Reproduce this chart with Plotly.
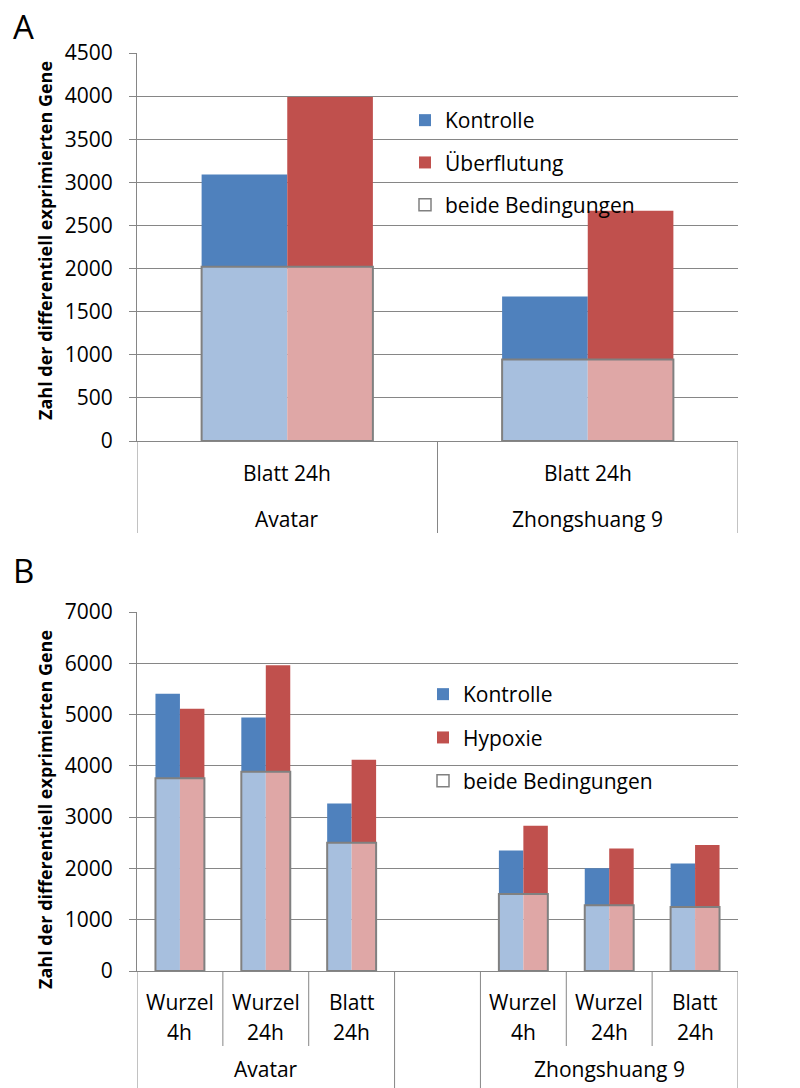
import plotly.graph_objects as go

# ---- Panel A: flooding (Überflutung), leaf 24h ----
a_outer = ["Avatar", "Zhongshuang 9"]
a_inner = ["Blatt 24h", "Blatt 24h"]
a_shared = [2020, 945]          # genes found in both conditions
a_kontrolle = [3090, 1675]      # total, control
a_stress = [3990, 2670]         # total, flooding

# ---- Panel B: hypoxia ----
b_outer = ["Avatar", "Avatar", "Avatar", "", "Zhongshuang 9", "Zhongshuang 9", "Zhongshuang 9"]
b_inner_1 = ["Wurzel", "Wurzel", "Blatt", "", "Wurzel", "Wurzel", "Blatt"]
b_inner_2 = ["4h", "24h", "24h", "", "4h", "24h", "24h"]
b_shared = [3760, 3885, 2500, None, 1500, 1280, 1250]
b_kontrolle = [5405, 4945, 3265, None, 2350, 2005, 2095]
b_stress = [5115, 5960, 4120, None, 2830, 2390, 2455]

DARK_BLUE = "#4F81BD"
DARK_RED = "#C0504D"
LIGHT_BLUE = "#A7BFDE"
LIGHT_RED = "#DFA7A6"
GRID = "#868686"
OUTLINE = "#808080"
FONT = "Open Sans"
FS = 21

HALF = 0.285  # width of one bar in category units (two bars per category)

W, H = 800, 1088
L, R = 137, 62
PW = W - L - R


def px_x(p):
    return (p - L) / PW


def px_y(p):
    return 1 - p / H


def diff(total, base):
    return [None if t is None or b is None else t - b for t, b in zip(total, base)]


fig = go.Figure()
shapes = []
annotations = []


def add_panel(outer, inner_lines, shared, kon, stress, xa, ya, legend, stress_name,
              axis_px, inner_y_px, inner_end_px, outer_y_px, outer_end_px):
    n = len(outer)
    x = list(range(n))
    common = dict(x=x, xaxis=xa, yaxis=ya, showlegend=False, hoverinfo="skip")
    fig.add_trace(go.Bar(y=shared, offset=-HALF, width=HALF,
                         marker=dict(color=LIGHT_BLUE, line=dict(width=0)), **common))
    fig.add_trace(go.Bar(y=shared, offset=0, width=HALF,
                         marker=dict(color=LIGHT_RED, line=dict(width=0)), **common))
    fig.add_trace(go.Bar(y=diff(kon, shared), base=shared, offset=-HALF, width=HALF,
                         marker=dict(color=DARK_BLUE, line=dict(width=0)), **common))
    fig.add_trace(go.Bar(y=diff(stress, shared), base=shared, offset=0, width=HALF,
                         marker=dict(color=DARK_RED, line=dict(width=0)), **common))
    # frame around the shared block
    fig.add_trace(go.Bar(y=shared, offset=-HALF, width=2 * HALF,
                         marker=dict(color="rgba(0,0,0,0)", line=dict(color=OUTLINE, width=2)),
                         **common))
    # legend entries
    for i, (name, col, lc, lw) in enumerate([
        ("Kontrolle", DARK_BLUE, DARK_BLUE, 0),
        (stress_name, DARK_RED, DARK_RED, 0),
        ("beide Bedingungen", "white", OUTLINE, 1.5),
    ]):
        fig.add_trace(go.Bar(x=[0], y=[None], name=name,
                             marker=dict(color=col, line=dict(color=lc, width=lw)),
                             xaxis=xa, yaxis=ya, legend=legend,
                             legendgroup=legend + str(i), showlegend=True))

    # category labels (inner rows)
    for row, labels in enumerate(inner_lines):
        for i, lab in enumerate(labels):
            if lab:
                annotations.append(dict(text=lab, x=i, y=px_y(inner_y_px[row]), xref=xa,
                                        yref="paper", showarrow=False, xanchor="center",
                                        yanchor="middle"))
    # group labels (outer row)
    groups = []
    for i, g in enumerate(outer):
        if groups and groups[-1][0] == g:
            groups[-1][2] = i
        else:
            groups.append([g, i, i])
    for g, i0, i1 in groups:
        if g:
            annotations.append(dict(text=g, x=(i0 + i1) / 2, y=px_y(outer_y_px), xref=xa,
                                    yref="paper", showarrow=False, xanchor="center",
                                    yanchor="middle"))
    # dividers: full height at group edges, shorter between categories of a group
    group_edges = {i0 - 0.5 for _, i0, _ in groups} | {i1 + 0.5 for _, _, i1 in groups}
    for k in range(n + 1):
        b = k - 0.5
        end = outer_end_px if b in group_edges else inner_end_px
        shapes.append(dict(type="line", xref=xa, yref="paper", x0=b, x1=b,
                           y0=px_y(axis_px), y1=px_y(end),
                           line=dict(color=GRID, width=1)))
    return n


na = add_panel(a_outer, [a_inner], a_shared, a_kontrolle, a_stress, "x", "y", "legend",
               "Überflutung", 441, [473], 487, 519, 533)
nb = add_panel(b_outer, [b_inner_1, b_inner_2], b_shared, b_kontrolle, b_stress, "x2", "y3",
               "legend2", "Hypoxie", 971, [1002, 1032], 1046, 1069, 1088)

tickfont = dict(family=FONT, size=FS, color="black")

xcommon = dict(showline=True, linecolor=GRID, linewidth=1, ticks="",
               showticklabels=False, showgrid=False, zeroline=False, automargin=False)
ycommon = dict(showline=True, linecolor=GRID, linewidth=1, ticks="outside",
               ticklen=7, tickcolor=GRID, zeroline=False, tickfont=tickfont,
               automargin=False, ticklabelstandoff=12)

annotations += [
    dict(text="A", x=px_x(11), y=px_y(26), xref="paper", yref="paper",
         xanchor="left", yanchor="middle", showarrow=False,
         font=dict(family=FONT, size=33, color="black")),
    dict(text="B", x=px_x(11), y=px_y(570), xref="paper", yref="paper",
         xanchor="left", yanchor="middle", showarrow=False,
         font=dict(family=FONT, size=33, color="black")),
    dict(text="<b>Zahl der differentiell exprimierten Gene</b>", x=px_x(45), y=px_y(241),
         xref="paper", yref="paper", textangle=-90, showarrow=False,
         xanchor="center", yanchor="middle",
         font=dict(family=FONT, size=18, color="black")),
    dict(text="<b>Zahl der differentiell exprimierten Gene</b>", x=px_x(45), y=px_y(810),
         xref="paper", yref="paper", textangle=-90, showarrow=False,
         xanchor="center", yanchor="middle",
         font=dict(family=FONT, size=18, color="black")),
]

fig.update_layout(
    width=W, height=H,
    margin=dict(l=L, r=R, t=0, b=0),
    paper_bgcolor="white", plot_bgcolor="white",
    barmode="overlay",
    font=dict(family=FONT, size=FS, color="black"),
    xaxis=dict(domain=[0, 1], anchor="y", range=[-0.5, na - 0.5], **xcommon),
    yaxis=dict(domain=[px_y(441), px_y(53)], anchor="x", range=[0, 4500], dtick=500,
               showgrid=True, gridcolor=GRID, gridwidth=1, **ycommon),
    yaxis2=dict(overlaying="y", side="right", anchor="x", range=[0, 4500], dtick=500,
                showgrid=False, **ycommon),
    xaxis2=dict(domain=[0, 1], anchor="y3", range=[-0.5, nb - 0.5], **xcommon),
    yaxis3=dict(domain=[px_y(971), px_y(612)], anchor="x2", range=[0, 7000], dtick=1000,
                showgrid=True, gridcolor=GRID, gridwidth=1, **ycommon),
    yaxis4=dict(overlaying="y3", side="right", anchor="x2", range=[0, 7000], dtick=1000,
                showgrid=False, **ycommon),
    legend=dict(x=px_x(405), y=px_y(100), xanchor="left", yanchor="top",
                bgcolor="rgba(0,0,0,0)", font=dict(family=FONT, size=FS, color="black"),
                tracegroupgap=12, itemclick=False, itemdoubleclick=False),
    legend2=dict(x=px_x(423), y=px_y(674), xanchor="left", yanchor="top",
                 bgcolor="rgba(0,0,0,0)", font=dict(family=FONT, size=FS, color="black"),
                 tracegroupgap=13, itemclick=False, itemdoubleclick=False),
    shapes=shapes,
    annotations=annotations,
)

fig.write_html("out.html")
